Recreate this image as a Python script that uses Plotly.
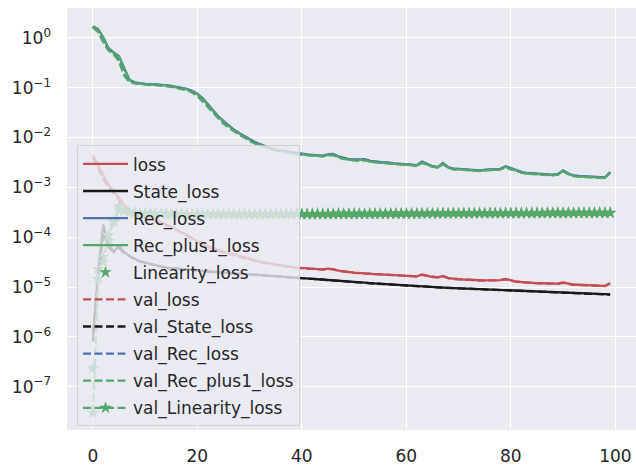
import plotly.graph_objects as go

epochs = list(range(100))

loss = [
    4.4e-3, 2.8e-3, 1.66e-3, 1.12e-3, 8.3e-4, 6.3e-4, 4.4e-4, 3.5e-4, 2.95e-4, 2.7e-4,
    2.45e-4, 2.3e-4, 2.14e-4, 2.0e-4, 1.82e-4, 1.62e-4, 1.45e-4, 1.29e-4, 1.12e-4, 9.5e-5,
    8.3e-5, 7.4e-5, 6.6e-5, 6.0e-5, 5.5e-5, 5.1e-5, 4.8e-5, 4.5e-5, 4.2e-5, 3.9e-5,
    3.6e-5, 3.4e-5, 3.24e-5, 3.1e-5, 2.95e-5, 2.82e-5, 2.7e-5, 2.63e-5, 2.5e-5, 2.45e-5,
    2.4e-5, 2.34e-5, 2.32e-5, 2.29e-5, 2.26e-5, 2.34e-5, 2.29e-5, 2.14e-5, 2.04e-5, 2.0e-5,
    1.95e-5, 1.9e-5, 1.9e-5, 1.86e-5, 1.82e-5, 1.8e-5, 1.78e-5, 1.76e-5, 1.74e-5, 1.72e-5,
    1.70e-5, 1.66e-5, 1.64e-5, 1.78e-5, 1.70e-5, 1.58e-5, 1.57e-5, 1.66e-5, 1.51e-5, 1.46e-5,
    1.45e-5, 1.41e-5, 1.40e-5, 1.38e-5, 1.35e-5, 1.36e-5, 1.36e-5, 1.36e-5, 1.38e-5, 1.45e-5,
    1.35e-5, 1.29e-5, 1.26e-5, 1.23e-5, 1.22e-5, 1.20e-5, 1.19e-5, 1.17e-5, 1.16e-5, 1.17e-5,
    1.23e-5, 1.16e-5, 1.12e-5, 1.11e-5, 1.10e-5, 1.08e-5, 1.07e-5, 1.06e-5, 1.05e-5, 1.20e-5,
]

state_loss = [
    8.0e-7, 2.0e-5, 1.8e-4, 6.3e-5, 5.0e-5, 6.8e-5, 5.0e-5, 4.2e-5, 3.7e-5, 3.3e-5,
    3.1e-5, 2.9e-5, 2.7e-5, 2.57e-5, 2.45e-5, 2.4e-5, 2.34e-5, 2.29e-5, 2.24e-5, 2.19e-5,
    2.14e-5, 2.1e-5, 2.06e-5, 2.02e-5, 1.98e-5, 1.95e-5, 1.92e-5, 1.89e-5, 1.86e-5, 1.83e-5,
    1.78e-5, 1.75e-5, 1.72e-5, 1.69e-5, 1.66e-5, 1.63e-5, 1.6e-5, 1.57e-5, 1.55e-5, 1.53e-5,
    1.51e-5, 1.48e-5, 1.46e-5, 1.43e-5, 1.41e-5, 1.39e-5, 1.37e-5, 1.34e-5, 1.32e-5, 1.29e-5,
    1.26e-5, 1.24e-5, 1.22e-5, 1.2e-5, 1.18e-5, 1.16e-5, 1.14e-5, 1.12e-5, 1.1e-5, 1.085e-5,
    1.07e-5, 1.055e-5, 1.04e-5, 1.03e-5, 1.015e-5, 1.0e-5, 9.9e-6, 9.75e-6, 9.65e-6, 9.55e-6,
    9.5e-6, 9.4e-6, 9.3e-6, 9.2e-6, 9.1e-6, 9.0e-6, 8.9e-6, 8.8e-6, 8.7e-6, 8.6e-6,
    8.5e-6, 8.43e-6, 8.36e-6, 8.29e-6, 8.22e-6, 8.15e-6, 8.08e-6, 8.01e-6, 7.94e-6, 7.87e-6,
    7.8e-6, 7.73e-6, 7.66e-6, 7.59e-6, 7.52e-6, 7.45e-6, 7.38e-6, 7.31e-6, 7.24e-6, 7.1e-6,
]

rec_loss = [
    1.72, 1.50, 1.02, 0.62, 0.51, 0.43, 0.25, 0.144, 0.128, 0.122,
    0.119, 0.118, 0.117, 0.115, 0.113, 0.109, 0.104, 0.100, 0.095, 0.087,
    0.076, 0.062, 0.047, 0.036, 0.0266, 0.0215, 0.0174, 0.0144, 0.0123, 0.0107,
    0.0091, 0.0081, 0.0074, 0.0067, 0.0061, 0.0057, 0.0055, 0.0052, 0.0050, 0.0048,
    0.0047, 0.0046, 0.0045, 0.0044, 0.0043, 0.0046, 0.0047, 0.0042, 0.0039, 0.0037,
    0.0036, 0.0036, 0.0037, 0.0034, 0.0033, 0.0033, 0.0032, 0.0031, 0.0030, 0.00296,
    0.00296, 0.00286, 0.0028, 0.0033, 0.00296, 0.00266, 0.00255, 0.0031, 0.00255, 0.00235,
    0.00235, 0.0023, 0.00229, 0.00225, 0.00219, 0.00225, 0.00229, 0.00231, 0.00235, 0.00266,
    0.00245, 0.00219, 0.00204, 0.00194, 0.0019, 0.00186, 0.00184, 0.00182, 0.0018, 0.00184,
    0.00219, 0.0019, 0.00174, 0.0017, 0.00167, 0.00165, 0.00163, 0.0016, 0.00158, 0.00204,
]

rec_plus1_loss = [
    1.70, 1.48, 1.00, 0.60, 0.50, 0.42, 0.24, 0.141, 0.126, 0.120,
    0.117, 0.116, 0.115, 0.113, 0.111, 0.107, 0.102, 0.098, 0.093, 0.085,
    0.074, 0.060, 0.046, 0.035, 0.026, 0.021, 0.017, 0.0141, 0.0120, 0.0105,
    0.0089, 0.0079, 0.0072, 0.0066, 0.0060, 0.0056, 0.0054, 0.0051, 0.0049, 0.0047,
    0.0046, 0.0045, 0.0044, 0.0043, 0.0042, 0.0045, 0.0046, 0.0041, 0.0038, 0.0036,
    0.0035, 0.0035, 0.0036, 0.0033, 0.0032, 0.0032, 0.0031, 0.0030, 0.00295, 0.0029,
    0.0029, 0.0028, 0.00275, 0.0032, 0.0029, 0.0026, 0.0025, 0.0030, 0.0025, 0.0023,
    0.0023, 0.00226, 0.00224, 0.0022, 0.00214, 0.0022, 0.00224, 0.00226, 0.0023, 0.0026,
    0.0024, 0.00214, 0.0020, 0.0019, 0.00186, 0.00182, 0.0018, 0.00178, 0.00176, 0.0018,
    0.00214, 0.00186, 0.0017, 0.00166, 0.00164, 0.00162, 0.0016, 0.00157, 0.00155, 0.0020,
]

linearity_loss = [
    2.3e-7, 2.3e-5, 4.0e-5, 8.5e-5, 2.1e-4, 4.2e-4, 3.4e-4, 3.2e-4, 3.1e-4, 3.0e-4,
    2.95e-4, 3.0e-4, 2.9e-4, 2.95e-4, 2.9e-4, 2.92e-4, 2.88e-4, 2.9e-4, 2.86e-4, 2.9e-4,
    2.88e-4, 2.9e-4, 2.86e-4, 2.88e-4, 2.85e-4, 2.88e-4, 2.86e-4, 2.88e-4, 2.85e-4, 2.87e-4,
    2.86e-4, 2.88e-4, 2.86e-4, 2.89e-4, 2.87e-4, 2.9e-4, 2.88e-4, 2.9e-4, 2.88e-4, 2.9e-4,
    2.89e-4, 2.91e-4, 2.89e-4, 2.92e-4, 2.9e-4, 2.92e-4, 2.9e-4, 2.93e-4, 2.91e-4, 2.93e-4,
    2.92e-4, 2.94e-4, 2.92e-4, 2.95e-4, 2.93e-4, 2.95e-4, 2.94e-4, 2.96e-4, 2.94e-4, 2.96e-4,
    2.95e-4, 2.97e-4, 2.95e-4, 2.98e-4, 2.96e-4, 2.98e-4, 2.97e-4, 2.99e-4, 2.97e-4, 2.99e-4,
    2.98e-4, 3.0e-4, 2.98e-4, 3.0e-4, 2.99e-4, 3.01e-4, 2.99e-4, 3.01e-4, 3.0e-4, 3.02e-4,
    3.0e-4, 3.02e-4, 3.0e-4, 3.03e-4, 3.01e-4, 3.03e-4, 3.01e-4, 3.04e-4, 3.02e-4, 3.04e-4,
    3.02e-4, 3.04e-4, 3.03e-4, 3.05e-4, 3.03e-4, 3.05e-4, 3.04e-4, 3.06e-4, 3.04e-4, 3.06e-4,
]

val_loss = [
    3.9e-3, 2.4e-3, 1.45e-3, 1.0e-3, 7.6e-4, 5.6e-4, 4.0e-4, 3.2e-4, 2.8e-4, 2.6e-4,
    2.36e-4, 2.22e-4, 2.07e-4, 1.93e-4, 1.75e-4, 1.55e-4, 1.38e-4, 1.22e-4, 1.05e-4, 8.9e-5,
    7.8e-5, 7.0e-5, 6.3e-5, 5.8e-5, 5.3e-5, 4.9e-5, 4.6e-5, 4.3e-5, 4.0e-5, 3.75e-5,
    3.5e-5, 3.3e-5, 3.15e-5, 3.0e-5, 2.88e-5, 2.76e-5, 2.65e-5, 2.57e-5, 2.46e-5, 2.41e-5,
    2.36e-5, 2.31e-5, 2.29e-5, 2.26e-5, 2.24e-5, 2.3e-5, 2.25e-5, 2.11e-5, 2.02e-5, 1.98e-5,
    1.93e-5, 1.89e-5, 1.88e-5, 1.84e-5, 1.81e-5, 1.79e-5, 1.77e-5, 1.75e-5, 1.73e-5, 1.71e-5,
    1.69e-5, 1.65e-5, 1.63e-5, 1.75e-5, 1.68e-5, 1.57e-5, 1.56e-5, 1.64e-5, 1.50e-5, 1.45e-5,
    1.44e-5, 1.40e-5, 1.39e-5, 1.37e-5, 1.34e-5, 1.35e-5, 1.35e-5, 1.35e-5, 1.37e-5, 1.43e-5,
    1.34e-5, 1.28e-5, 1.25e-5, 1.22e-5, 1.21e-5, 1.19e-5, 1.18e-5, 1.16e-5, 1.15e-5, 1.16e-5,
    1.21e-5, 1.15e-5, 1.11e-5, 1.10e-5, 1.09e-5, 1.07e-5, 1.06e-5, 1.05e-5, 1.04e-5, 1.18e-5,
]

val_state_loss = [
    1.2e-6, 1.5e-5, 1.2e-4, 7.0e-5, 5.2e-5, 6.0e-5, 4.8e-5, 4.1e-5, 3.6e-5, 3.25e-5,
    3.05e-5, 2.86e-5, 2.68e-5, 2.55e-5, 2.44e-5, 2.38e-5, 2.32e-5, 2.27e-5, 2.22e-5, 2.17e-5,
    2.12e-5, 2.08e-5, 2.04e-5, 2.0e-5, 1.97e-5, 1.94e-5, 1.91e-5, 1.88e-5, 1.85e-5, 1.81e-5,
    1.77e-5, 1.74e-5, 1.71e-5, 1.68e-5, 1.65e-5, 1.62e-5, 1.59e-5, 1.57e-5, 1.54e-5, 1.52e-5,
    1.5e-5, 1.47e-5, 1.45e-5, 1.43e-5, 1.41e-5, 1.38e-5, 1.36e-5, 1.33e-5, 1.31e-5, 1.28e-5,
    1.26e-5, 1.24e-5, 1.21e-5, 1.19e-5, 1.17e-5, 1.15e-5, 1.13e-5, 1.11e-5, 1.095e-5, 1.08e-5,
    1.065e-5, 1.05e-5, 1.035e-5, 1.02e-5, 1.01e-5, 9.95e-6, 9.85e-6, 9.7e-6, 9.6e-6, 9.5e-6,
    9.45e-6, 9.35e-6, 9.25e-6, 9.15e-6, 9.05e-6, 8.95e-6, 8.85e-6, 8.75e-6, 8.65e-6, 8.55e-6,
    8.45e-6, 8.38e-6, 8.31e-6, 8.24e-6, 8.17e-6, 8.1e-6, 8.03e-6, 7.96e-6, 7.89e-6, 7.82e-6,
    7.75e-6, 7.68e-6, 7.61e-6, 7.54e-6, 7.47e-6, 7.4e-6, 7.33e-6, 7.26e-6, 7.19e-6, 7.05e-6,
]

val_rec_loss = [
    1.64, 1.34, 0.84, 0.57, 0.48, 0.35, 0.18, 0.132, 0.124, 0.120,
    0.117, 0.116, 0.115, 0.113, 0.110, 0.106, 0.101, 0.097, 0.091, 0.082,
    0.070, 0.054, 0.042, 0.032, 0.0246, 0.0195, 0.0162, 0.0136, 0.0117, 0.0102,
    0.0087, 0.0078, 0.0071, 0.0065, 0.0060, 0.0056, 0.0054, 0.0051, 0.0049, 0.0047,
    0.0046, 0.0045, 0.0044, 0.0043, 0.0043, 0.0045, 0.0045, 0.0041, 0.0038, 0.0037,
    0.0036, 0.0035, 0.0036, 0.0034, 0.0033, 0.0032, 0.0032, 0.0031, 0.0030, 0.00296,
    0.0029, 0.00286, 0.00276, 0.0032, 0.00286, 0.00265, 0.00255, 0.00296, 0.00255, 0.00235,
    0.00235, 0.0023, 0.00225, 0.00225, 0.00216, 0.00225, 0.00225, 0.0023, 0.00235, 0.00255,
    0.00235, 0.00214, 0.00202, 0.00192, 0.00188, 0.00184, 0.00182, 0.0018, 0.00178, 0.00184,
    0.00214, 0.00188, 0.00172, 0.00167, 0.00165, 0.00163, 0.00161, 0.00158, 0.00156, 0.0020,
]

val_rec_plus1_loss = [
    1.62, 1.32, 0.82, 0.56, 0.47, 0.34, 0.175, 0.130, 0.122, 0.118,
    0.115, 0.114, 0.113, 0.111, 0.108, 0.104, 0.099, 0.095, 0.089, 0.080,
    0.068, 0.053, 0.041, 0.031, 0.024, 0.019, 0.0158, 0.0133, 0.0114, 0.0100,
    0.0085, 0.0076, 0.0070, 0.0064, 0.0059, 0.0055, 0.0053, 0.0050, 0.0048, 0.0046,
    0.0045, 0.0044, 0.0043, 0.0042, 0.0042, 0.0044, 0.0044, 0.0040, 0.0037, 0.0036,
    0.0035, 0.0034, 0.0035, 0.0033, 0.0032, 0.0031, 0.0031, 0.0030, 0.0029, 0.0029,
    0.00285, 0.0028, 0.0027, 0.0031, 0.0028, 0.0026, 0.0025, 0.0029, 0.0025, 0.0023,
    0.0023, 0.00225, 0.0022, 0.0022, 0.00212, 0.0022, 0.0022, 0.00225, 0.0023, 0.0025,
    0.0023, 0.0021, 0.00198, 0.00188, 0.00184, 0.0018, 0.00178, 0.00176, 0.00174, 0.0018,
    0.0021, 0.00184, 0.00168, 0.00164, 0.00162, 0.0016, 0.00158, 0.00155, 0.00153, 0.00196,
]

val_linearity_loss = [
    3.0e-8, 1.45e-5, 3.2e-5, 1.1e-4, 2.0e-4, 3.6e-4, 3.3e-4, 3.15e-4, 3.05e-4, 3.0e-4,
    2.98e-4, 2.96e-4, 2.95e-4, 2.93e-4, 2.93e-4, 2.91e-4, 2.91e-4, 2.9e-4, 2.9e-4, 2.89e-4,
    2.89e-4, 2.88e-4, 2.88e-4, 2.87e-4, 2.87e-4, 2.87e-4, 2.87e-4, 2.87e-4, 2.87e-4, 2.87e-4,
    2.88e-4, 2.88e-4, 2.88e-4, 2.89e-4, 2.89e-4, 2.89e-4, 2.9e-4, 2.9e-4, 2.9e-4, 2.91e-4,
    2.91e-4, 2.91e-4, 2.92e-4, 2.92e-4, 2.92e-4, 2.93e-4, 2.93e-4, 2.93e-4, 2.94e-4, 2.94e-4,
    2.94e-4, 2.95e-4, 2.95e-4, 2.95e-4, 2.96e-4, 2.96e-4, 2.96e-4, 2.97e-4, 2.97e-4, 2.97e-4,
    2.98e-4, 2.98e-4, 2.98e-4, 2.99e-4, 2.99e-4, 2.99e-4, 3.0e-4, 3.0e-4, 3.0e-4, 3.01e-4,
    3.01e-4, 3.01e-4, 3.02e-4, 3.02e-4, 3.02e-4, 3.03e-4, 3.03e-4, 3.03e-4, 3.04e-4, 3.04e-4,
    3.04e-4, 3.05e-4, 3.05e-4, 3.05e-4, 3.06e-4, 3.06e-4, 3.06e-4, 3.07e-4, 3.07e-4, 3.07e-4,
    3.08e-4, 3.08e-4, 3.08e-4, 3.09e-4, 3.09e-4, 3.09e-4, 3.1e-4, 3.1e-4, 3.1e-4, 3.1e-4,
]

x_ticks = [0, 20, 40, 60, 80, 100]
y_tick_vals = [1e0, 1e-1, 1e-2, 1e-3, 1e-4, 1e-5, 1e-6, 1e-7]
y_tick_text = ["10<sup>0</sup>", "10<sup>−1</sup>", "10<sup>−2</sup>", "10<sup>−3</sup>",
               "10<sup>−4</sup>", "10<sup>−5</sup>", "10<sup>−6</sup>", "10<sup>−7</sup>"]

RED = "#C44E52"
BLACK = "#1A1A1A"
BLUE = "#4C72B0"
GREEN = "#55A868"
LW = 2.3
DASH = "8px,3.5px"

# (name, values, colour, mode, dashed)
series = [
    ("loss", loss, RED, "lines", False),
    ("State_loss", state_loss, BLACK, "lines", False),
    ("Rec_loss", rec_loss, BLUE, "lines", False),
    ("Rec_plus1_loss", rec_plus1_loss, GREEN, "lines", False),
    ("Linearity_loss", linearity_loss, GREEN, "markers", False),
    ("val_loss", val_loss, RED, "lines", True),
    ("val_State_loss", val_state_loss, BLACK, "lines", True),
    ("val_Rec_loss", val_rec_loss, BLUE, "lines", True),
    ("val_Rec_plus1_loss", val_rec_plus1_loss, GREEN, "lines", True),
    ("val_Linearity_loss", val_linearity_loss, GREEN, "lines+markers", True),
]

fig = go.Figure()
for name, vals, color, mode, dashed in series:
    fig.add_trace(go.Scatter(
        x=epochs, y=vals, name=name, mode=mode, legendgroup=name,
        line=dict(color=color, width=LW, dash=DASH if dashed else "solid"),
        marker=dict(symbol="star", size=9.5, color=color, line=dict(width=0)),
    ))

FONT = "DejaVu Sans"
fig.update_layout(
    width=636, height=466,
    margin=dict(l=67, r=0, t=8, b=34),
    paper_bgcolor="white",
    plot_bgcolor="#EAEAF2",
    font=dict(family=FONT, size=17, color="#262626"),
    showlegend=True,
    legend=dict(
        x=0.0176, y=0.6745, xanchor="left", yanchor="top",
        bgcolor="rgba(234,234,242,0.8)",
        bordercolor="rgba(204,204,204,0.8)", borderwidth=1,
        font=dict(family=FONT, size=17, color="#262626"),
        tracegroupgap=2, itemwidth=45,
    ),
)
fig.update_xaxes(
    range=[-4.95, 103.95], tickvals=x_ticks, showgrid=True, gridcolor="white",
    gridwidth=1.3, zeroline=False, showline=False, ticks="", ticklabelstandoff=14,
)
fig.update_yaxes(
    type="log", range=[-7.87, 0.60], tickvals=y_tick_vals, ticktext=y_tick_text,
    showgrid=True, gridcolor="white", gridwidth=1.3, zeroline=False, showline=False,
    ticks="", ticklabelstandoff=15,
)

fig.write_html("out.html")
